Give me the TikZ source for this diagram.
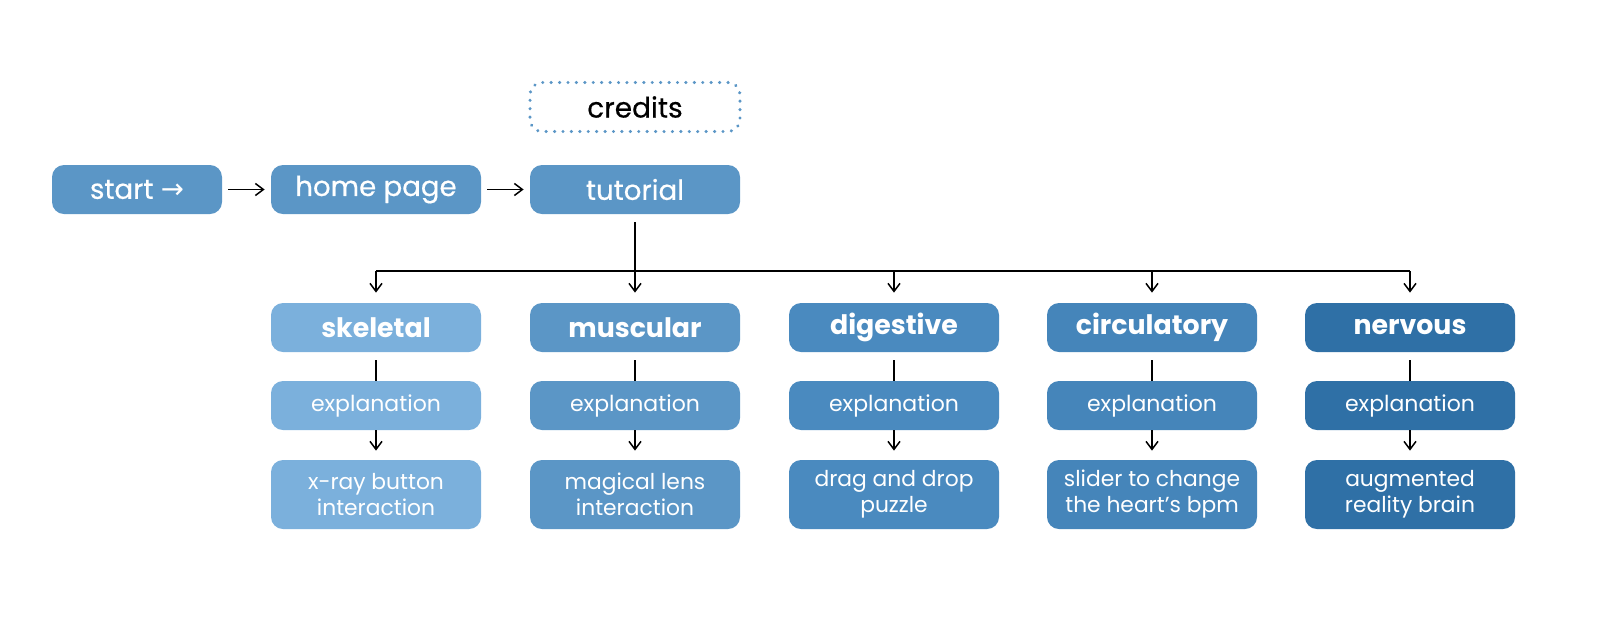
\documentclass[tikz,border=0pt]{standalone}
\usepackage{fontspec}
\setmainfont{Poppins}
\newfontfamily\popmed[FakeBold=0.5]{Poppins}
\newfontfamily\dejavu{DejaVu Sans}
\usetikzlibrary{arrows.meta}
\definecolor{cstart}{HTML}{5B96C6}
\definecolor{cskel}{HTML}{7BB0DC}
\definecolor{cmusc}{HTML}{5B96C6}
\definecolor{cdig}{HTML}{4A8ABF}
\definecolor{ccirc}{HTML}{4585BA}
\definecolor{cnerv}{HTML}{2F70A6}
\definecolor{cdot}{HTML}{5B96C6}
\tikzset{
  box/.style={rounded corners=6pt, minimum width=105pt, minimum height=24.5pt, inner sep=0pt, text=white, align=center},
  topbox/.style={box, font=\fontsize{13.8}{16}\popmed},
  headbox/.style={box, font=\fontsize{13.4}{15}\selectfont\bfseries},
  expbox/.style={box, font=\fontsize{11}{13}\selectfont},
  leafbox/.style={box, minimum height=34.5pt, font=\fontsize{10.9}{13}\selectfont},
  conn/.style={line width=0.75pt, black},
  arr/.style={conn, -{Straight Barb[length=4pt,width=6pt,line width=0.75pt]}},
}
\begin{document}
\begin{tikzpicture}[x=0.5pt,y=-0.5pt]
\useasboundingbox (0,0) rectangle (1600,623);
% top row
\node[topbox, fill=cstart, minimum width=85pt] (start) at (137,189.5) {start {\dejavu →}};
\node[topbox, fill=cstart] (home) at (376,189.5) {home page};
\node[topbox, fill=cstart] (tut) at (635,189.5) {tutorial};
\node[box, draw=cdot, line width=1.7pt, dash pattern=on 0.01pt off 4.2pt, line cap=round, text=black, font=\fontsize{14}{16}\popmed] (cred) at (635,107) {credits};
\draw[arr] ([xshift=3pt]start.east) -- ([xshift=-3pt]home.west);
\draw[arr] ([xshift=3pt]home.east) -- ([xshift=-3pt]tut.west);
% columns
\foreach \n/\x/\c/\h/\l in {sk/376/cskel/skeletal/{x-ray button\\interaction},
  mu/635/cmusc/muscular/{magical lens\\interaction},
  di/894/cdig/digestive/{drag and drop\\puzzle},
  ci/1152/ccirc/circulatory/{slider to change\\the heart's bpm},
  ne/1410/cnerv/nervous/{augmented\\reality brain}}{
  \node[headbox, fill=\c] (\n h) at (\x,327.5) {\h};
  \node[expbox, fill=\c] (\n e) at (\x,405.5) {explanation};
  \node[leafbox, fill=\c] (\n l) at (\x,494.5) {\l};
  \draw[conn] ([yshift=-4pt]\n h.south) -- (\n e.north);
  \draw[arr] (\n e.south) -- ([yshift=4.5pt]\n l.north);
}
\coordinate (bus) at (635,271);
\draw[conn] ([yshift=-4pt]tut.south) -- (bus);
\draw[conn] (bus -| skh.north) -- (bus -| neh.north);
\foreach \n in {sk,mu,di,ci,ne}{
  \draw[arr] (bus -| \n h.north) -- ([yshift=5pt]\n h.north);
}
\end{tikzpicture}
\end{document}
